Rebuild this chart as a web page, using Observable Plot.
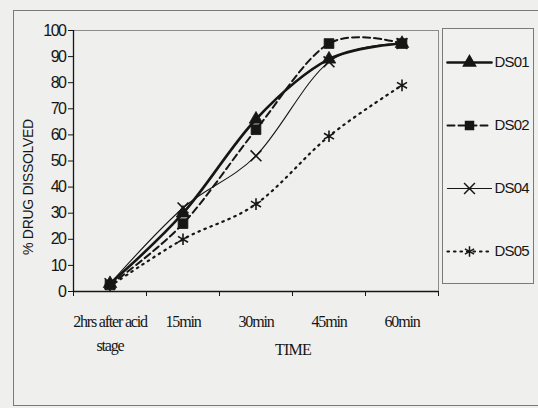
<!DOCTYPE html>
<html><head><meta charset="utf-8">
<script src="https://cdn.jsdelivr.net/npm/d3@7"></script>
<script src="https://cdn.jsdelivr.net/npm/@observablehq/plot@0.6"></script>
<style>
html,body{margin:0;padding:0;background:#efefed;}
#wrap{position:relative;width:538px;height:408px;overflow:hidden;background:#efefed;}
#outer{position:absolute;left:13px;top:10px;width:640px;height:394px;border:1px solid #7a7a7a;}
#chart{position:absolute;left:0;top:0;}
#legend{position:absolute;left:442px;top:28px;width:90px;height:254px;border:1px solid #7a7a7a;background:#f1f1ef;}
#ylab{position:absolute;left:28px;top:187px;transform:translate(-50%,-50%) rotate(-90deg);white-space:nowrap;
  font:14px 'Liberation Sans', Arial, sans-serif;color:#161616;letter-spacing:-0.3px;}
#chart g[aria-label="y-axis tick label"], #chart g[aria-label="y-axis tick label"] text{font-size:16px;letter-spacing:-1.5px;}
svg{overflow:visible;}
</style></head><body>
<div id="wrap"><div id="outer"></div><div id="chart"></div><div id="legend"></div><div id="ylab"></div></div>
<script>
const categories = ["2hrs after acid\nstage", "15min", "30min", "45min", "60min"];
const series = ["DS01", "DS02", "DS04", "DS05"];
const ds01 = [3, 30, 66, 89, 95];
const ds02 = [2.5, 26, 62, 95, 95];
const ds04 = [3, 32, 52, 88, 95];
const ds05 = [2, 20, 33.5, 59.5, 79];
const yTicks = [0, 10, 20, 30, 40, 50, 60, 70, 80, 90, 100];
const yLabel = "% DRUG DISSOLVED";
const xLabel = "TIME";

const valuesBySeries = {DS01: ds01, DS02: ds02, DS04: ds04, DS05: ds05};
const data = series.flatMap(s => valuesBySeries[s].map((v, i) => ({series: s, i, value: v})));

const ink = "#161616";
const styles = {
  DS01: {symbol: "triangle", sw: 2.6, dash: null, r: 5, filled: true},
  DS02: {symbol: "square", sw: 2, dash: "7,4", r: 5.5, filled: true},
  DS04: {symbol: "times", sw: 1.1, dash: null, r: 5, filled: false},
  DS05: {symbol: "asterisk", sw: 2.2, dash: "1.5,5", r: 5.5, filled: false}
};
const bounds = d3.range(categories.length + 1).map(i => i - 0.5);
const serif = "'Liberation Serif', 'Times New Roman', serif";

document.getElementById("ylab").textContent = yLabel;

const marks = [
  Plot.frame({stroke: "#8c8c8c", strokeWidth: 1}),
  Plot.axisY({ticks: yTicks, tickSize: 5, tickPadding: 3, label: null, stroke: ink, fill: ink}),
  Plot.axisX({ticks: bounds, tickSize: 5, tickFormat: () => "", label: null, stroke: ink}),
  Plot.ruleY([0], {stroke: ink, strokeWidth: 1.3}),
  Plot.ruleX([bounds[0]], {stroke: ink, strokeWidth: 1.3}),
  Plot.text(categories, {x: (d, i) => i, frameAnchor: "bottom", lineAnchor: "top", dy: 18, lineHeight: 1.5,
    fontFamily: serif, fontSize: 16, fill: ink}),
  Plot.text([xLabel], {frameAnchor: "bottom", dx: 37, dy: 63, fontFamily: serif, fontSize: 16, fill: ink})
];
for (const s of series) {
  const st = styles[s];
  const rows = data.filter(d => d.series === s);
  marks.push(Plot.line(rows, {x: "i", y: "value", stroke: ink, strokeWidth: st.sw, strokeDasharray: st.dash,
    strokeLinecap: "round", curve: "cardinal", tension: 0}));
}
for (const s of series) {
  const st = styles[s];
  const rows = data.filter(d => d.series === s);
  marks.push(st.filled
    ? Plot.dot(rows, {x: "i", y: "value", symbol: st.symbol, r: st.r, fill: ink, stroke: ink, strokeWidth: 0.8})
    : Plot.dot(rows, {x: "i", y: "value", symbol: st.symbol, r: st.r, stroke: ink, strokeWidth: 1.6, fill: "none"}));
}

const chart = Plot.plot({
  width: 538, height: 408,
  marginLeft: 73, marginRight: 100, marginTop: 30, marginBottom: 117,
  style: {background: "transparent", fontFamily: "'Liberation Sans', Arial, sans-serif", fontSize: "13px", color: ink},
  x: {type: "linear", domain: [bounds[0], bounds[bounds.length - 1]]},
  y: {domain: [0, 100]},
  marks
});
document.getElementById("chart").appendChild(chart);

// condense the serif category / title labels like the scanned original
d3.select(chart).selectAll("text").each(function() {
  const ff = (this.getAttribute("font-family") || "") + (this.parentNode.getAttribute("font-family") || "");
  if (ff.includes("Liberation Serif")) {
    this.style.letterSpacing = this.textContent === xLabel ? "-0.8px" : "-1.2px";
  }
});

const legendMarks = [];
for (const s of series) {
  const st = styles[s];
  legendMarks.push(Plot.line([{x: 0, s}, {x: 1, s}], {x: "x", y: "s", stroke: ink, strokeWidth: Math.max(st.sw, 1.2),
    strokeDasharray: st.dash, strokeLinecap: "round"}));
  legendMarks.push(st.filled
    ? Plot.dot([{x: 0.5, s}], {x: "x", y: "s", symbol: st.symbol, r: 4.5, fill: ink, stroke: ink})
    : Plot.dot([{x: 0.5, s}], {x: "x", y: "s", symbol: st.symbol, r: 5, stroke: ink, strokeWidth: 1.5, fill: "none"}));
}
legendMarks.push(Plot.text(series, {x: () => 1, y: d => d, dx: 3, textAnchor: "start", fontSize: 15, fill: ink}));
const legend = Plot.plot({
  width: 90, height: 254, marginLeft: 4, marginRight: 42, marginTop: 0, marginBottom: 0,
  style: {background: "transparent", fontFamily: "'Liberation Sans', Arial, sans-serif", color: ink},
  x: {domain: [0, 1], axis: null},
  y: {type: "point", domain: series, padding: 0.5, axis: null},
  marks: legendMarks
});
document.getElementById("legend").appendChild(legend);
d3.select(legend).selectAll("text").style("letter-spacing", "-0.8px");
</script>
</body></html>
